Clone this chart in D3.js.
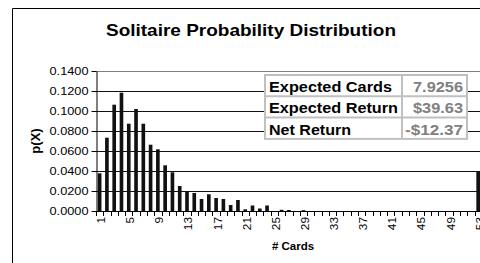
<!DOCTYPE html>
<html>
<head>
    <meta charset="utf-8">
    <title>Solitaire Probability Distribution</title>
    <script src="https://d3js.org/d3.v7.min.js"></script>
    <style>
        body { margin: 0; background: #fff; }
        svg { display: block; font-family: Arial, "Liberation Sans", sans-serif; }
    </style>
</head>
<body>
    <div id="chart"></div>
    <script>
        // number of cards turned (1..53)
        const cards = d3.range(1, 54);
        // p(X), bars 1..53
        const probs = [
            0.0377, 0.0733, 0.1063, 0.1183, 0.0873, 0.1020, 0.0873, 0.0663, 0.0617, 0.0457,
            0.0387, 0.0250, 0.0190, 0.0180, 0.0120, 0.0167, 0.0130, 0.0120, 0.0060, 0.0110,
            0.0017, 0.0055, 0.0025, 0.0055, 0.0000, 0.0012, 0.0010, 0.0000, 0.0008, 0.0000,
            0, 0, 0, 0, 0, 0, 0, 0, 0, 0,
            0, 0, 0, 0, 0, 0, 0, 0, 0, 0,
            0, 0, 0.0395
        ];
        const yTicks = [0, 0.02, 0.04, 0.06, 0.08, 0.10, 0.12, 0.14];
        const xLabels = [1, 5, 9, 13, 17, 21, 25, 29, 33, 37, 41, 45, 49, 53];
        const statNames = ["Expected Cards", "Expected Return", "Net Return"];
        const statValues = ["7.9256", "$39.63", "-$12.37"];

        const data = cards.map((c, i) => ({card: c, p: probs[i]}));

        const W = 480, H = 263;
        const plot = {left: 96, right: 481.8, top: 71, bottom: 211};

        const svg = d3.select("#chart").append("svg")
            .attr("width", W)
            .attr("height", H);

        svg.append("rect").attr("width", W).attr("height", H).attr("fill", "#fff");

        // chart area border (cropped on right and bottom)
        svg.append("path")
            .attr("d", `M12.5,${H} V8.5 H${W}`)
            .attr("fill", "none")
            .attr("stroke", "#000");

        svg.append("text")
            .attr("x", 251)
            .attr("y", 36)
            .attr("text-anchor", "middle")
            .style("font-weight", "bold")
            .style("font-size", "17px")
            .attr("textLength", 290)
            .attr("lengthAdjust", "spacingAndGlyphs")
            .text("Solitaire Probability Distribution");

        const x = d3.scaleBand()
            .domain(cards)
            .range([plot.left, plot.right])
            .paddingInner(0.5)
            .paddingOuter(0.25);

        const y = d3.scaleLinear()
            .domain([0, 0.14])
            .range([plot.bottom, plot.top]);

        // gridlines
        svg.append("g")
            .selectAll("line")
            .data(yTicks.filter(t => t > 0))
            .join("line")
            .attr("x1", plot.left)
            .attr("x2", W)
            .attr("y1", d => Math.round(y(d)) + 0.5)
            .attr("y2", d => Math.round(y(d)) + 0.5)
            .attr("stroke", d => d === 0.14 ? "#808080" : "#111");

        // bars
        svg.append("g")
            .selectAll("rect")
            .data(data.filter(d => d.p > 0))
            .join("rect")
            .attr("x", d => x(d.card))
            .attr("width", x.bandwidth())
            .attr("y", d => y(d.p))
            .attr("height", d => y(0) - y(d.p))
            .attr("fill", "#111");

        // y axis
        const yAxis = svg.append("g")
            .attr("transform", `translate(${plot.left + 0.5},0)`)
            .call(d3.axisLeft(y).tickValues(yTicks).tickFormat(d3.format(".4f")).tickSize(5).tickSizeOuter(0));
        yAxis.select(".domain").attr("stroke", "#000");
        yAxis.selectAll(".tick line").attr("stroke", "#000");
        yAxis.selectAll(".tick text")
            .attr("x", -8)
            .attr("fill", "#000")
            .style("font-size", "11px")
            .attr("textLength", 39)
            .attr("lengthAdjust", "spacingAndGlyphs");
        yAxis.selectAll(".tick")
            .attr("transform", d => `translate(0,${Math.round(y(d)) + 0.5})`);

        // x axis baseline + ticks at category boundaries
        const step = x.step();
        const xAxis = svg.append("g");
        xAxis.append("line")
            .attr("x1", plot.left)
            .attr("x2", W)
            .attr("y1", plot.bottom + 0.5)
            .attr("y2", plot.bottom + 0.5)
            .attr("stroke", "#000");
        xAxis.selectAll(".xtick")
            .data(cards)
            .join("line")
            .attr("class", "xtick")
            .attr("x1", d => Math.round(x(d) - step * 0.25) + 0.5)
            .attr("x2", d => Math.round(x(d) - step * 0.25) + 0.5)
            .attr("y1", plot.bottom)
            .attr("y2", plot.bottom + 5)
            .attr("stroke", "#000");
        xAxis.selectAll(".xlabel")
            .data(xLabels)
            .join("text")
            .attr("class", "xlabel")
            .attr("transform", d => `translate(${x(d) + x.bandwidth() / 2 + 5.5},217) rotate(-90)`)
            .attr("text-anchor", "end")
            .style("font-size", "11px")
            .attr("textLength", d => String(d).length * 6.6)
            .attr("lengthAdjust", "spacingAndGlyphs")
            .text(d => d);

        // axis titles
        svg.append("text")
            .attr("transform", "translate(40,141) rotate(-90)")
            .attr("text-anchor", "middle")
            .style("font-weight", "bold")
            .style("font-size", "13px")
            .text("p(X)");

        svg.append("text")
            .attr("x", 293)
            .attr("y", 250)
            .attr("text-anchor", "middle")
            .style("font-weight", "bold")
            .style("font-size", "11.5px")
            .text("# Cards");

        // stats table
        const tbl = {x0: 265, x1: 402, x2: 467, y0: 75, rowH: 21.3};
        const nameLen = [123, 129, 82];
        const valLen = [50, 50, 58];
        const table = svg.append("g");
        table.append("rect")
            .attr("x", tbl.x0)
            .attr("y", tbl.y0)
            .attr("width", tbl.x2 - tbl.x0)
            .attr("height", tbl.rowH * 3)
            .attr("fill", "#fff")
            .attr("stroke", "#c0c0c0")
            .attr("stroke-width", 2);
        table.append("line")
            .attr("x1", tbl.x1).attr("x2", tbl.x1)
            .attr("y1", tbl.y0).attr("y2", tbl.y0 + tbl.rowH * 3)
            .attr("stroke", "#c0c0c0").attr("stroke-width", 2);
        table.selectAll(".rowline")
            .data([1, 2])
            .join("line")
            .attr("class", "rowline")
            .attr("x1", tbl.x0).attr("x2", tbl.x2)
            .attr("y1", d => tbl.y0 + d * tbl.rowH)
            .attr("y2", d => tbl.y0 + d * tbl.rowH)
            .attr("stroke", "#c0c0c0").attr("stroke-width", 2);
        table.selectAll(".sname")
            .data(statNames)
            .join("text")
            .attr("class", "sname")
            .attr("x", tbl.x0 + 4)
            .attr("y", (d, i) => tbl.y0 + 17 + i * tbl.rowH)
            .style("font-weight", "bold")
            .style("font-size", "15px")
            .attr("textLength", (d, i) => nameLen[i])
            .attr("lengthAdjust", "spacingAndGlyphs")
            .text(d => d);
        table.selectAll(".sval")
            .data(statValues)
            .join("text")
            .attr("class", "sval")
            .attr("x", tbl.x2 - 4)
            .attr("y", (d, i) => tbl.y0 + 17 + i * tbl.rowH)
            .attr("text-anchor", "end")
            .attr("fill", "#808080")
            .style("font-weight", "bold")
            .style("font-size", "15px")
            .attr("textLength", (d, i) => valLen[i])
            .attr("lengthAdjust", "spacingAndGlyphs")
            .text(d => d);
    </script>
</body>
</html>
